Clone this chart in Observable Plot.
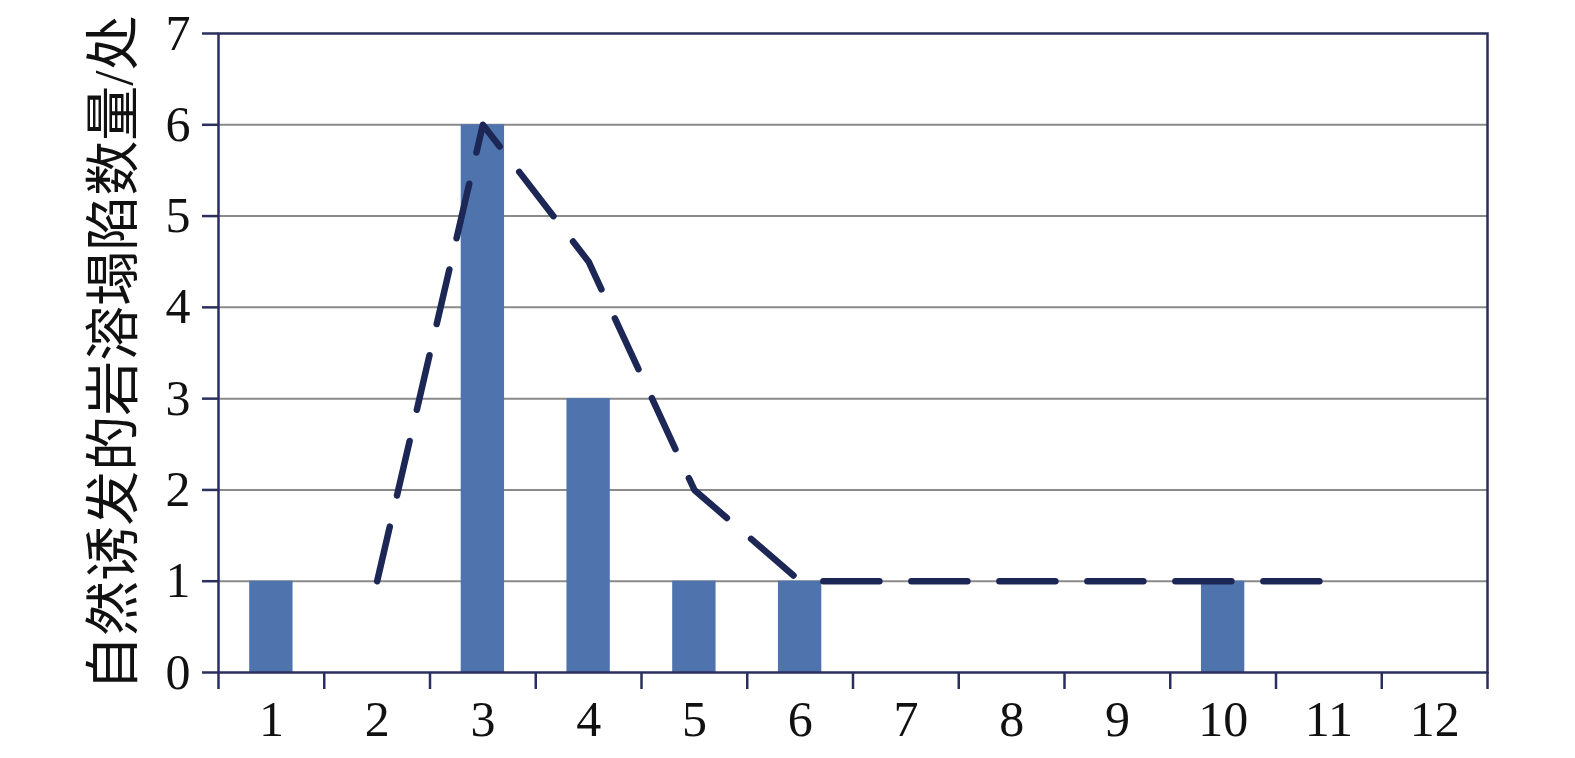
<!DOCTYPE html>
<html><head><meta charset="utf-8">
<script src="https://cdn.jsdelivr.net/npm/d3@7"></script>
<script src="https://cdn.jsdelivr.net/npm/@observablehq/plot@0.6"></script>
<style>body{margin:0;background:#fff}</style>
</head><body><div id="chart"></div>
<script>
const months = [1,2,3,4,5,6,7,8,9,10,11,12];
const counts = [1,0,6,3,1,1,0,0,0,1,0,0];
const trendMonths = [2,3,4,5,6,7,8,9,10,11];
const trendValues = [1,6,4.5,2,1,1,1,1,1,1];
const yTicks = [0,1,2,3,4,5,6,7];
const yLabel = "自然诱发的岩溶塌陷数量/处";

const bars = months.map((m,i)=>({m, v: counts[i]})).filter(d=>d.v>0);
const trend = trendMonths.map((m,i)=>({m, v: trendValues[i]}));
const boundaries = [0, ...months].map(m=>m+0.5);
const halfBar = 0.205;
const navy = "#2a2f5e";
const font = "'Liberation Serif','Noto Sans CJK SC',serif";

const chart = Plot.plot({
  width: 1575, height: 758,
  marginLeft: 218, marginRight: 88, marginTop: 33, marginBottom: 86,
  style: {fontFamily: font, background: "#fff", color: "#111"},
  x: {type: "linear", domain: [0.5, 12.5]},
  y: {domain: [0, 7]},
  marks: [
    Plot.ruleY(yTicks.filter(t=>t>0 && t<7), {stroke: "#8a8a8a", strokeWidth: 2}),
    Plot.rectY(bars, {x1: d=>d.m-halfBar, x2: d=>d.m+halfBar, y1: 0, y2: "v", fill: "#4f73ad"}),
    Plot.line(trend, {x: "m", y: "v", stroke: "#1d2755", strokeWidth: 6.5, strokeDasharray: "56,32", strokeLinecap: "round", strokeLinejoin: "round"}),
    Plot.frame({stroke: navy, strokeWidth: 2.5}),
    Plot.axisY({ticks: yTicks, tickSize: 16, tickPadding: 12, stroke: navy, strokeWidth: 2.5, fontSize: 50,
      tickFormat: d=>String(d), label: null}),
    Plot.text([yLabel], {text: d=>d, frameAnchor: "left", rotate: -90, dx: -104, fontSize: 55,
      textAnchor: "middle", lineAnchor: "middle", fill: "#111"}),
    Plot.axisX({ticks: boundaries, tickSize: 17, tickFormat: () => "", stroke: navy, strokeWidth: 2.5, label: null}),
    Plot.axisX({ticks: months, tickSize: 0, tickPadding: 28, fontSize: 50, tickFormat: d=>String(d), label: null})
  ]
});
document.getElementById("chart").appendChild(chart);
</script></body></html>
